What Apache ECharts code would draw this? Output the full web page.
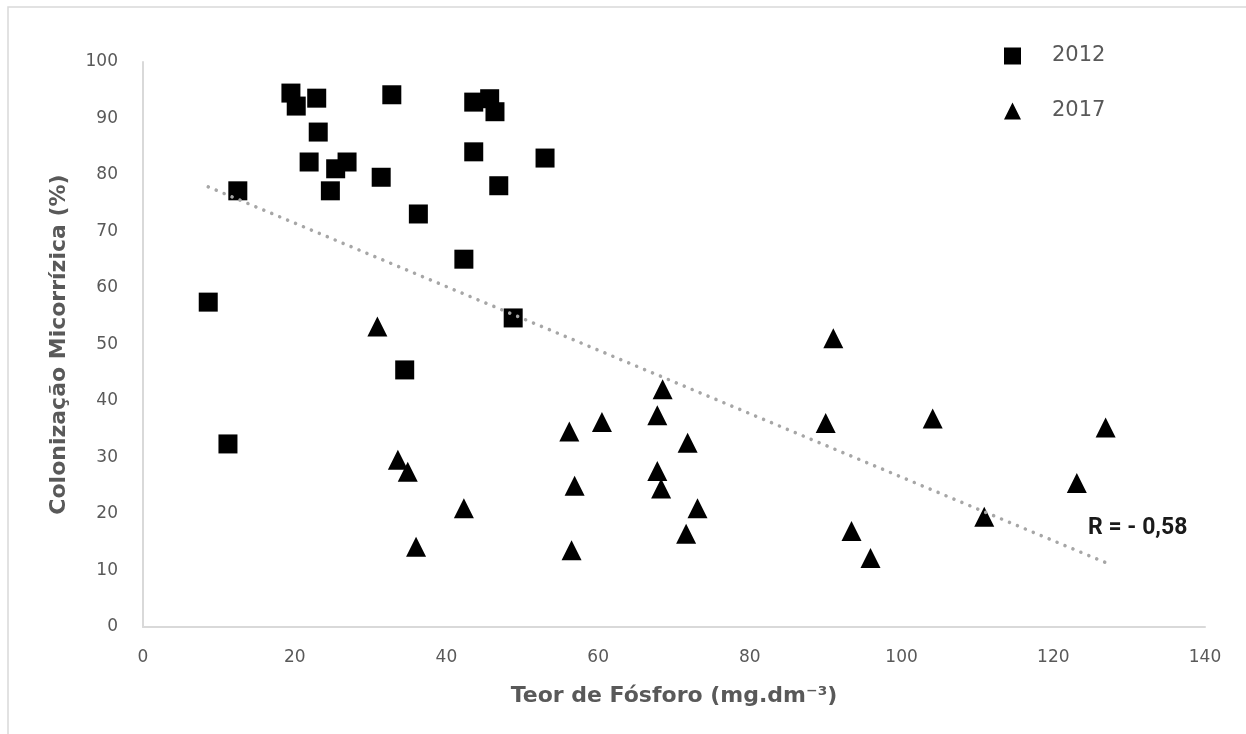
<!DOCTYPE html>
<html>
<head>
<meta charset="utf-8">
<style>
  html, body { margin: 0; padding: 0; background: #ffffff; }
  #chart { width: 1246px; height: 734px; }
</style>
<script src="https://cdn.jsdelivr.net/npm/echarts@6/dist/echarts.min.js"></script>
</head>
<body>
<div id="chart"></div>
<script>
// ---- data ----
const xTicks = [0, 20, 40, 60, 80, 100, 120, 140];
const yTicks = [0, 10, 20, 30, 40, 50, 60, 70, 80, 90, 100];

const p2012 = [8.6, 11.2, 12.5, 19.5, 20.2, 22.9, 23.1, 21.9, 25.4, 26.9, 24.7, 31.4, 32.8, 36.3, 34.5, 42.3, 43.6, 43.6, 45.7, 46.4, 46.9, 48.8, 53.0];
const c2012 = [57.5, 32.4, 77.2, 94.5, 92.2, 93.6, 87.6, 82.3, 81.1, 82.3, 77.2, 79.6, 94.2, 73.1, 45.5, 65.1, 92.9, 84.1, 93.5, 91.2, 78.1, 54.7, 83.0];

const p2017 = [30.9, 33.6, 34.9, 42.3, 36.0, 56.2, 60.5, 56.9, 56.5, 68.5, 67.8, 71.8, 67.8, 68.3, 73.1, 71.6, 91.0, 90.0, 104.1, 126.9, 123.1, 110.9, 93.4, 95.9];
const c2017 = [53.2, 29.6, 27.5, 21.0, 14.2, 34.6, 36.3, 25.0, 13.6, 42.1, 37.5, 32.6, 27.6, 24.5, 21.0, 16.5, 51.1, 36.1, 36.9, 35.3, 25.5, 19.5, 17.0, 12.2];

const trendX = [8.6, 126.9];
const trendY = [77.9, 11.4];

const seriesNames = ['2012', '2017'];
const xName = 'Teor de Fósforo (mg.dm⁻³)';
const yName = 'Colonização Micorrízica (%)';
const rLabel = 'R = - 0,58';

const zip = (a, b) => a.map((v, i) => [v, b[i]]);

const chart = echarts.init(document.getElementById('chart'), null, { renderer: 'canvas' });

const option = {
  backgroundColor: '#ffffff',
  animation: false,
  grid: { left: 143, right: 41, top: 62, bottom: 107 },
  legend: {
    data: seriesNames,
    orient: 'vertical',
    left: 999,
    top: 40,
    itemWidth: 17,
    itemHeight: 17,
    itemGap: 33,
    textStyle: { fontFamily: 'DejaVu Sans', fontSize: 21, color: '#595959', lineHeight: 22, padding: [0, 0, 0, 26] }
  },
  xAxis: {
    type: 'value',
    min: xTicks[0],
    max: xTicks[xTicks.length - 1],
    interval: xTicks[1] - xTicks[0],
    name: xName,
    nameLocation: 'middle',
    nameGap: 58,
    nameTextStyle: { fontFamily: 'DejaVu Sans', fontWeight: 'bold', fontSize: 22, color: '#595959' },
    axisLine: { show: true, lineStyle: { color: '#d9d9d9', width: 2 } },
    axisTick: { show: false },
    splitLine: { show: false },
    axisLabel: { margin: 22, fontFamily: 'DejaVu Sans', fontSize: 17, color: '#595959' }
  },
  yAxis: {
    type: 'value',
    min: yTicks[0],
    max: yTicks[yTicks.length - 1],
    interval: yTicks[1] - yTicks[0],
    name: yName,
    nameLocation: 'middle',
    nameGap: 73,
    nameRotate: 90,
    nameTextStyle: { fontFamily: 'DejaVu Sans', fontWeight: 'bold', fontSize: 22, color: '#595959' },
    axisLine: { show: true, lineStyle: { color: '#d9d9d9', width: 2 } },
    axisTick: { show: false },
    splitLine: { show: false },
    axisLabel: { margin: 25, fontFamily: 'DejaVu Sans', fontSize: 17, color: '#595959' }
  },
  series: [
    {
      name: seriesNames[0],
      type: 'scatter',
      symbol: 'rect',
      symbolSize: 19,
      itemStyle: { color: '#000000', opacity: 1 },
      data: zip(p2012, c2012),
      z: 2
    },
    {
      name: seriesNames[1],
      type: 'scatter',
      symbol: 'triangle',
      symbolSize: 20,
      itemStyle: { color: '#000000', opacity: 1 },
      data: zip(p2017, c2017),
      z: 2
    },
    {
      name: 'trend',
      type: 'line',
      data: zip(trendX, trendY),
      showSymbol: false,
      symbol: 'none',
      silent: true,
      z: 5,
      lineStyle: { color: '#a6a6a6', width: 3.5, type: [0.1, 8.5], cap: 'round' }
    }
  ],
  graphic: [
    {
      type: 'rect',
      shape: { x: 8, y: 7, width: 1400, height: 900 },
      style: { fill: 'none', stroke: '#d9d9d9', lineWidth: 1.5 },
      silent: true,
      z: -1
    },
    {
      type: 'text',
      x: 1088,
      y: 528,
      style: {
        text: rLabel,
        fontFamily: 'Roboto',
        fontWeight: 'bold',
        fontSize: 23,
        fill: '#1a1a1a',
        verticalAlign: 'middle',
        align: 'left'
      }
    }
  ]
};

chart.setOption(option);
</script>
</body>
</html>
